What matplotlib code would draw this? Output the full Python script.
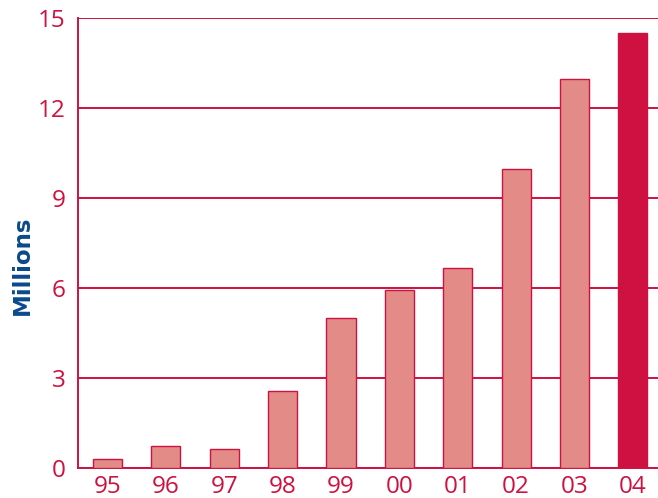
import matplotlib.pyplot as plt

years = ["95", "96", "97", "98", "99", "00", "01", "02", "03", "04"]
millions = [0.3, 0.73, 0.63, 2.57, 5.0, 5.93, 6.67, 9.97, 12.97, 14.5]

red = "#CE1140"
pink = "#E38C87"
blue = "#0B4A8B"

fig = plt.figure(figsize=(6.58, 4.98), dpi=100)
ax = fig.add_axes([78 / 658, 30 / 498, 580 / 658, 450 / 498])

colors = [pink] * (len(years) - 1) + [red]
ax.bar(range(len(years)), millions, width=0.5, color=colors,
       edgecolor=red, linewidth=1.0, zorder=3)

ax.set_xlim(-0.505, 9.43)
ax.set_ylim(0, 15)
ax.set_yticks([0, 3, 6, 9, 12, 15])
ax.set_xticks(range(len(years)))
ax.set_xticklabels(years)

ax.yaxis.grid(True, color=red, linewidth=1.4, zorder=1)
ax.set_axisbelow(True)
for s in ["top", "right"]:
    ax.spines[s].set_visible(False)
for s in ["left", "bottom"]:
    ax.spines[s].set_color(red)
    ax.spines[s].set_linewidth(1.4)

ax.tick_params(axis="both", length=0, colors=red, labelsize=17.5)
ax.tick_params(axis="x", pad=5)
ax.tick_params(axis="y", pad=9)
for lab in ax.get_xticklabels() + ax.get_yticklabels():
    lab.set_family("Open Sans")

fig.text(22 / 658, 1 - 265 / 498, "Millions", rotation=90, fontsize=16.5,
         fontweight="bold", color=blue, family="DejaVu Sans",
         ha="center", va="center")

fig.savefig("out.png", dpi=100)
